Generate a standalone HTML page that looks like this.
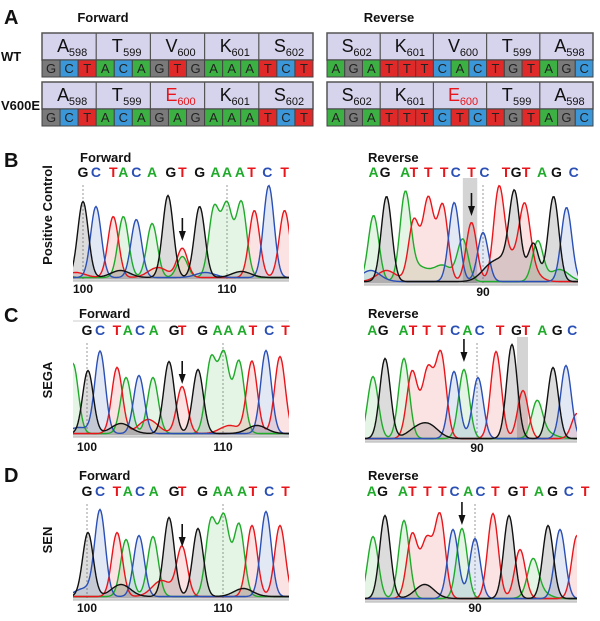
<!DOCTYPE html>
<html><head><meta charset="utf-8"><style>
body{margin:0;background:#fff;}
svg{display:block;font-family:"Liberation Sans",Arial,sans-serif;}
</style></head><body>
<svg id="fig" width="600" height="621" viewBox="0 0 600 621" xmlns="http://www.w3.org/2000/svg">
<g id="panelA"></g>
<g id="charts"></g>
</svg>
<script>
// ---- Panel A data ----
const fwdNuc = ["G","C","T","A","C","A","G","T","G","A","A","A","T","C","T"];
const fwdNucMut = ["G","C","T","A","C","A","G","A","G","A","A","A","T","C","T"];
const revNuc = ["A","G","A","T","T","T","C","A","C","T","G","T","A","G","C"];
const revNucMut = ["A","G","A","T","T","T","C","T","C","T","G","T","A","G","C"];
const fwdAA = [["A","598"],["T","599"],["V","600"],["K","601"],["S","602"]];
const fwdAAMut = [["A","598"],["T","599"],["E","600"],["K","601"],["S","602"]];
const revAA = [["S","602"],["K","601"],["V","600"],["T","599"],["A","598"]];
const revAAMut = [["S","602"],["K","601"],["E","600"],["T","599"],["A","598"]];

// ---- Chromatogram data ----
const bFwdBases = ["A","G","C","T","A","C","A","G","T","A","G","A","A","A","T","C","T"];
const bFwdPos = [98.5,100.0,100.9,102.1,102.8,103.7,104.8,105.9,106.9,106.9,108.1,109.1,110.0,111.0,111.9,112.9,114.0];
const bFwdHeights = [10,76,71,61,61,58,54,82,29,21,71,69,71,75,67,92,67];
const bFwdNoiseBases = ["T","G","C","G","T"];
const bFwdNoisePos = [105.2,102.6,108.5,111.0,99.5];
const bFwdNoiseHeights = [10,7,5,6,5];
const bFwdCalls = ["G","C","T","A","C","A","G","T","G","A","A","A","T","C","T"];
const bFwdCallPos = [100.0,100.9,102.1,102.8,103.7,104.8,106.1,106.9,108.1,109.2,110.0,110.9,111.7,112.8,114.0];

const bRevBases = ["A","G","A","T","T","T","C","A","T","C","T","G","T","G","A","G","C"];
const bRevPos = [82.4,83.3,84.6,85.2,86.2,87.2,88.0,88.6,89.2,90.0,91.1,92.2,92.9,93.5,93.8,94.9,95.8];
const bRevHeights = [66,85,85,61,82,76,79,41,59,49,84,79,56,38,40,85,74];
const bRevNoiseBases = ["A","T","G","G","T","T","C","A","A"];
const bRevNoisePos = [85.5,83.3,90.5,91.6,91.8,93.0,82.2,95.3,87.2];
const bRevNoiseHeights = [14,11,14,18,20,18,11,12,16];
const bRevCalls = ["A","G","A","T","T","T","C","T","C","T","G","T","A","G","C"];
const bRevCallPos = [82.4,83.2,84.6,85.2,86.2,87.3,88.1,89.2,90.1,91.6,92.3,93.0,94.1,95.1,96.3];

const cFwdBases = ["A","G","C","T","A","C","A","G","T","G","A","A","A","T","C","T"];
const cFwdPos = [98.97,100.07,100.96,102.21,102.87,103.82,104.85,106.03,106.99,108.16,109.12,110.07,111.18,112.13,113.16,114.19];
const cFwdHeights = [70,63,82,66,56,58,56,72,47,64,74,78,72,72,83,77];
const cFwdNoiseBases = ["G","T","T","G","C"];
const cFwdNoisePos = [102.5,104.5,110.5,112.5,99.4];
const cFwdNoiseHeights = [10,14,8,8,6];
const cFwdCalls = ["G","C","T","A","C","A","G","T","G","A","A","A","T","C","T"];
const cFwdCallPos = [100.0,100.96,102.2,103.0,103.9,104.9,106.4,107.0,108.5,109.6,110.4,111.4,112.2,113.4,114.6];

const cRevBases = ["A","G","A","T","T","T","C","A","C","T","G","T","A","G","C","T"];
const cRevPos = [82.35,83.24,84.63,85.22,86.40,87.35,88.31,89.04,90.07,91.40,92.57,93.38,94.41,95.59,96.54,97.35];
const cRevHeights = [62,80,80,62,60,83,67,69,61,87,94,48,34,71,73,25];
const cRevNoiseBases = ["G","G","T","A"];
const cRevNoisePos = [85.5,86.5,86.0,95.0];
const cRevNoiseHeights = [8,12,10,6];
const cRevCalls = ["A","G","A","T","T","T","C","A","C","T","G","T","A","G","C"];
const cRevCallPos = [82.3,83.1,84.6,85.3,86.3,87.4,88.4,89.3,90.2,91.7,92.9,93.6,94.8,95.9,97.0];

const dFwdBases = ["G","C","T","A","C","A","G","T","G","A","A","A","T","C","T"];
const dFwdPos = [100.07,100.96,102.21,102.87,103.82,104.85,106.03,106.99,108.16,109.12,110.07,111.18,112.13,113.16,114.19];
const dFwdHeights = [64,85,64,57,61,60,79,49,68,75,78,72,71,85,71];
const dFwdNoiseBases = ["G","T","C","G"];
const dFwdNoisePos = [102.5,105.5,99.8,111.5];
const dFwdNoiseHeights = [12,16,8,8];
const dFwdCalls = ["G","C","T","A","C","A","G","T","G","A","A","A","T","C","T"];
const dFwdCallPos = [100.0,100.96,102.2,103.0,103.9,104.9,106.4,107.0,108.5,109.6,110.4,111.4,112.2,113.4,114.6];

const dRevBases = ["A","G","A","T","T","T","C","A","C","T","G","T","A","G","C","T"];
const dRevPos = [82.5,83.38,84.78,85.37,86.47,87.43,88.38,89.04,90.0,91.32,92.5,93.31,94.26,95.37,96.25,97.5];
const dRevHeights = [62,83,78,58,50,82,69,70,60,85,83,49,33,73,69,63];
const dRevNoiseBases = ["G","T","A"];
const dRevNoisePos = [86.3,86.0,94.6];
const dRevNoiseHeights = [14,10,8];
const dRevCalls = ["A","G","A","T","T","T","C","A","C","T","G","T","A","G","C","T"];
const dRevCallPos = [82.4,83.2,84.7,85.4,86.5,87.6,88.5,89.5,90.4,91.5,92.8,93.6,94.7,95.7,96.9,98.1];

const NS = "http://www.w3.org/2000/svg";
function mk(tag, attrs, parent){const e=document.createElementNS(NS,tag);for(const k in attrs)e.setAttribute(k,attrs[k]);if(parent)parent.appendChild(e);return e;}
const colLine = {G:"#111111",C:"#2a4fb5",T:"#e8161b",A:"#1faa2a"};
const colFill = {G:"rgba(60,60,60,0.18)",C:"rgba(42,79,181,0.13)",T:"rgba(232,22,27,0.12)",A:"rgba(31,170,42,0.12)"};
const pA = document.getElementById("panelA");
const charts = document.getElementById("charts");

function txt(parent,x,y,s,size,weight,fill,anchor){const t=mk("text",{x:x,y:y,"font-size":size,"font-weight":weight||"normal",fill:fill||"#111","text-anchor":anchor||"start"},parent);t.textContent=s;return t;}
let t;
t=txt(pA,4,24,"A",20,"bold");
t=txt(pA,103,22,"Forward",13,"bold","#111","middle");
t=txt(pA,389,22,"Reverse",13,"bold","#111","middle");
t=txt(pA,1,61,"WT",13,"bold");
t=txt(pA,1,110,"V600E",13,"bold");
const nucBg = {G:"#7a7a7a",C:"#3b97d8",T:"#e02a2a",A:"#3cb043"};
function seqBox(x0,x1,y0,aa,nuc,name){
  const g=mk("g",{},pA);
  
  
  const w=(x1-x0)/15;
  mk("rect",{x:x0,y:y0,width:x1-x0,height:27,fill:"#d6d3ec",stroke:"#555","stroke-width":1.5},g);
  aa.forEach((a,i)=>{
    const cx=x0+w*3*i;
    if(i>0) mk("line",{x1:cx,y1:y0,x2:cx,y2:y0+27,stroke:"#555","stroke-width":1.2},g);
    const red=a[0]==="E";
    const tt=mk("text",{x:cx+w*1.5-6,y:y0+19,"font-size":18,fill:red?"#e8161b":"#111","text-anchor":"middle"},g);
    tt.textContent=a[0];
    const sub=mk("text",{x:cx+w*1.5+9,y:y0+23,"font-size":11,fill:red?"#e8161b":"#111","text-anchor":"middle"},g);
    sub.textContent=a[1];
  });
  nuc.forEach((n,i)=>{
    mk("rect",{x:x0+w*i,y:y0+27,width:w,height:17,fill:nucBg[n],stroke:"#444","stroke-width":1},g);
    const tt=mk("text",{x:x0+w*i+w/2,y:y0+40,"font-size":13,fill:"#222","text-anchor":"middle"},g);
    tt.textContent=n;
  });
}
seqBox(42,313,33,fwdAA,fwdNuc,"wt-forward-sequence");
seqBox(327,593,33,revAA,revNuc,"wt-reverse-sequence");
seqBox(42,313,82,fwdAAMut,fwdNucMut,"v600e-forward-sequence");
seqBox(327,593,82,revAAMut,revNucMut,"v600e-reverse-sequence");

function chromatogram(cfg){
  const g=mk("g",{},charts);
  
  
  const xs=u=>cfg.tickX+(u-cfg.tickU)*cfg.ppu;
  const ys=h=>cfg.base-h;
  const clipId="clip-"+cfg.name;
  const cp=mk("clipPath",{id:clipId},g);
  mk("rect",{x:cfg.x0,y:cfg.base-110,width:cfg.x1-cfg.x0,height:112},cp);
  let tt=txt(g,cfg.titleX,cfg.titleY,cfg.title,13,"bold");
  
  
  if(cfg.titleLine){mk("line",{x1:cfg.x0,y1:cfg.titleY+3,x2:cfg.x1,y2:cfg.titleY+3,stroke:"#ddd","stroke-width":1.5},g);}
  if(cfg.band){const b=mk("rect",{x:xs(cfg.band[0]),y:cfg.bandTop,width:xs(cfg.band[1])-xs(cfg.band[0]),height:cfg.base-cfg.bandTop,fill:"#d4d4d4"},g);
    
    }
  cfg.calls.forEach((c,i)=>{
    const e=mk("text",{x:xs(cfg.callPos[i]),y:cfg.callY,"font-size":14,"font-weight":"bold",fill:colLine[c],"text-anchor":"middle"},g);
    e.textContent=c;
    
    
  });
  cfg.ticks.forEach((tk,i)=>{
    const l=mk("line",{x1:xs(tk),y1:cfg.callY+8,x2:xs(tk),y2:cfg.base,stroke:"#999","stroke-width":1,"stroke-dasharray":"2,2"},g);
    
    
    const lb=mk("text",{x:xs(tk),y:cfg.base+cfg.labelOff,"font-size":12,"font-weight":"bold",fill:"#111","text-anchor":"middle"},g);
    lb.textContent=cfg.tickLabels[i];
    
    
  });
  const ax=mk("line",{x1:cfg.x0,y1:cfg.base+1.5,x2:cfg.x1,y2:cfg.base+1.5,stroke:"#c8c8c8","stroke-width":2.5},g);
  
  
  const tg=mk("g",{"clip-path":"url(#"+clipId+")"},g);
  const paths={};
  ["A","T","C","G"].forEach(b=>{
    let pts=[];
    for(let x=cfg.x0-2;x<=cfg.x1+2;x+=1){
      let v=1.5;
      cfg.bases.forEach((bb,i)=>{if(bb===b){const d=x-xs(cfg.pos[i]);v+=cfg.heights[i]*Math.exp(-d*d/(2*28));}});
      cfg.nBases.forEach((bb,i)=>{if(bb===b){const d=x-xs(cfg.nPos[i]);v+=cfg.nHeights[i]*Math.exp(-d*d/(2*90));}});
      pts.push([x,ys(v)]);
    }
    paths[b]=pts;
  });
  ["A","T","C","G"].forEach(b=>{
    const pts=paths[b];
    let d="M"+pts[0][0]+","+cfg.base+" "+pts.map(p=>"L"+p[0]+","+p[1].toFixed(1)).join(" ")+" L"+pts[pts.length-1][0]+","+cfg.base+"Z";
    const f=mk("path",{d:d,fill:colFill[b],stroke:"none"},tg);
    
    
  });
  ["A","T","C","G"].forEach(b=>{
    const pts=paths[b];
    let d="M"+pts.map(p=>p[0]+","+p[1].toFixed(1)).join(" L");
    const s=mk("path",{d:d,fill:"none",stroke:colLine[b],"stroke-width":1.4},tg);
    
    
  });
  const axp=xs(cfg.arrowU);
  const ag=mk("g",{},g);
  
  
  mk("line",{x1:axp,y1:cfg.arrowY,x2:axp,y2:cfg.arrowY+17,stroke:"#111","stroke-width":1.6},ag);
  mk("polygon",{points:(axp-3.5)+","+(cfg.arrowY+13)+" "+(axp+3.5)+","+(cfg.arrowY+13)+" "+axp+","+(cfg.arrowY+23),fill:"#111"},ag);
}

const rows=[
 {L:"B",ly:167,side:"Positive Control",sy:215,
  f:{name:"b-forward",x0:73,x1:289,base:279,tickX:83,tickU:100,ppu:14.4,bases:bFwdBases,pos:bFwdPos,heights:bFwdHeights,nBases:bFwdNoiseBases,nPos:bFwdNoisePos,nHeights:bFwdNoiseHeights,calls:bFwdCalls,callPos:bFwdCallPos,callY:177,title:"Forward",titleX:80,titleY:162,ticks:[100,110],tickLabels:["100","110"],labelOff:14,arrowU:106.9,arrowY:218},
  r:{name:"b-reverse",x0:364,x1:578,base:283,tickX:483,tickU:90,ppu:14.4,bases:bRevBases,pos:bRevPos,heights:bRevHeights,nBases:bRevNoiseBases,nPos:bRevNoisePos,nHeights:bRevNoiseHeights,calls:bRevCalls,callPos:bRevCallPos,callY:177,title:"Reverse",titleX:368,titleY:162,ticks:[90],tickLabels:["90"],labelOff:13,arrowU:89.2,arrowY:193,band:[88.6,89.6],bandTop:178}},
 {L:"C",ly:322,side:"SEGA",sy:380,
  f:{name:"c-forward",x0:73,x1:289,base:435,tickX:87,tickU:100,ppu:13.6,bases:cFwdBases,pos:cFwdPos,heights:cFwdHeights,nBases:cFwdNoiseBases,nPos:cFwdNoisePos,nHeights:cFwdNoiseHeights,calls:cFwdCalls,callPos:cFwdCallPos,callY:335,title:"Forward",titleX:79,titleY:318,titleLine:true,ticks:[100,110],tickLabels:["100","110"],labelOff:16,arrowU:107.0,arrowY:361},
  r:{name:"c-reverse",x0:365,x1:577,base:440,tickX:477,tickU:90,ppu:13.6,bases:cRevBases,pos:cRevPos,heights:cRevHeights,nBases:cRevNoiseBases,nPos:cRevNoisePos,nHeights:cRevNoiseHeights,calls:cRevCalls,callPos:cRevCallPos,callY:335,title:"Reverse",titleX:368,titleY:318,ticks:[90],tickLabels:["90"],labelOff:12,arrowU:89.04,arrowY:339,band:[92.94,93.75],bandTop:337}},
 {L:"D",ly:482,side:"SEN",sy:540,
  f:{name:"d-forward",x0:73,x1:289,base:598,tickX:87,tickU:100,ppu:13.6,bases:dFwdBases,pos:dFwdPos,heights:dFwdHeights,nBases:dFwdNoiseBases,nPos:dFwdNoisePos,nHeights:dFwdNoiseHeights,calls:dFwdCalls,callPos:dFwdCallPos,callY:496,title:"Forward",titleX:79,titleY:480,ticks:[100,110],tickLabels:["100","110"],labelOff:14,arrowU:107.0,arrowY:524},
  r:{name:"d-reverse",x0:365,x1:577,base:600,tickX:475,tickU:90,ppu:13.6,bases:dRevBases,pos:dRevPos,heights:dRevHeights,nBases:dRevNoiseBases,nPos:dRevNoisePos,nHeights:dRevNoiseHeights,calls:dRevCalls,callPos:dRevCallPos,callY:496,title:"Reverse",titleX:368,titleY:480,ticks:[90],tickLabels:["90"],labelOff:12,arrowU:89.04,arrowY:502}}
];
rows.forEach(r=>{
  const l=txt(charts,4,r.ly,r.L,20,"bold");
  
  
  const s=mk("text",{x:0,y:0,"font-size":13,"font-weight":"bold",fill:"#111","text-anchor":"middle",transform:"translate(52,"+r.sy+") rotate(-90)"},charts);
  s.textContent=r.side;
  
  
  chromatogram(r.f);
  chromatogram(r.r);
});
</script>
</body></html>
